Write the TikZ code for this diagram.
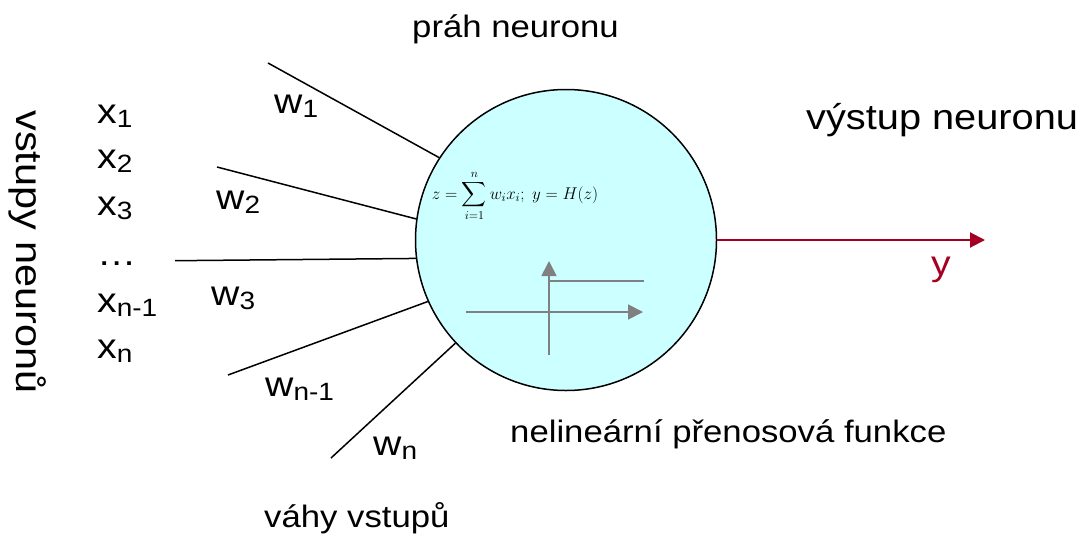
\RequirePackage{fix-cm}
\documentclass[tikz,border=0pt]{standalone}
\usepackage{exscale}
\usepackage[no-math]{fontspec}
\setmainfont{Liberation Sans}[FakeStretch=1.12]
\usetikzlibrary{arrows.meta}
\definecolor{cellfill}{RGB}{204,255,255}
\definecolor{outred}{RGB}{165,0,33}
\definecolor{stepgray}{RGB}{128,128,128}
\newcommand{\lsub}[1]{\raisebox{-4pt}{\fontsize{25}{25}\selectfont #1}}
\begin{document}
\begin{tikzpicture}[x=1pt,y=-1pt,
  lbl/.style={inner sep=0pt, anchor=base west, font=\fontsize{35}{40}\selectfont},
  captext/.style={inner sep=0pt, anchor=base west, font=\fontsize{31}{36}\selectfont},
  wire/.style={line width=1.5pt, black},
  gaxis/.style={line width=1.8pt, stepgray, -{Triangle[length=15pt,width=15pt]}},
  gline/.style={line width=1.8pt, stepgray},
  outarrow/.style={line width=2pt, outred, -{Triangle[length=15pt,width=15pt]}}]
\useasboundingbox (0,0) rectangle (1089,544);

% neuron body
\node[circle, draw, line width=1.5pt, fill=cellfill, minimum size=301pt, inner sep=0pt] (neuron) at (566,240) {};

% formula
\node[inner sep=0pt] (formula) at (515,196) {\fontsize{17}{20}\selectfont $\displaystyle z=\sum_{i=1}^{n} w_i x_i;\; y=H(z)$};

% step function
\coordinate (vbot) at (549,355);
\coordinate (vtop) at (549,261);
\coordinate (hleft) at (466,312);
\coordinate (hright) at (643,312);
\coordinate (sleft) at (549,281);
\coordinate (sright) at (644,281);
\draw[gaxis] (vbot) -- (vtop);
\draw[gaxis] (hleft) -- (hright);
\draw[gline] (sleft) -- (sright);

% input wires
\coordinate (s1) at (268,63);
\coordinate (s2) at (217,167);
\coordinate (s3) at (175,260.7);
\coordinate (s4) at (228,375);
\coordinate (s5) at (331,458);
\draw[wire] (s1) -- (neuron.147.4);
\draw[wire] (s2) -- (neuron.172);
\draw[wire] (s3) -- (neuron.187.9);
\draw[wire] (s4) -- (neuron.204);
\draw[wire] (s5) -- (neuron.223.2);

% output
\coordinate (yend) at (985,240);
\draw[outarrow] (neuron.east) -- (yend);
\node[lbl, text=outred] (ylab) at (931,275) {y};

% input labels
\node[lbl] (x1) at (97,123) {x\lsub{1}};
\node[lbl] (x2) at (97,168) {x\lsub{2}};
\node[lbl] (x3) at (97,215) {x\lsub{3}};
\node[lbl] (xdots) at (97,265) {…};
\node[lbl] (xn1) at (97,312) {x\lsub{n-1}};
\node[lbl] (xn) at (97,358) {x\lsub{n}};

% weight labels
\node[lbl] (w1) at (274,113) {w\lsub{1}};
\node[lbl] (w2) at (216,209) {w\lsub{2}};
\node[lbl] (w3) at (211,305) {w\lsub{3}};
\node[lbl] (wn1) at (265,396) {w\lsub{n-1}};
\node[lbl] (wn) at (373,455) {w\lsub{n}};

% captions
\node[captext] (prah) at (412,37) {práh neuronu};
\node[inner sep=0pt, anchor=base west, font=\fontsize{35.5}{40}\selectfont] (vystup) at (806,129) {výstup neuronu};
\node[captext] (nelin) at (510,442) {nelineární přenosová funkce};
\node[captext] (vahy) at (264,527) {váhy vstupů};
\node[inner sep=0pt, rotate=-90, font=\fontsize{37}{40}\selectfont] (vstupy) at (28,252) {vstupy neuronů};
\end{tikzpicture}
\end{document}
